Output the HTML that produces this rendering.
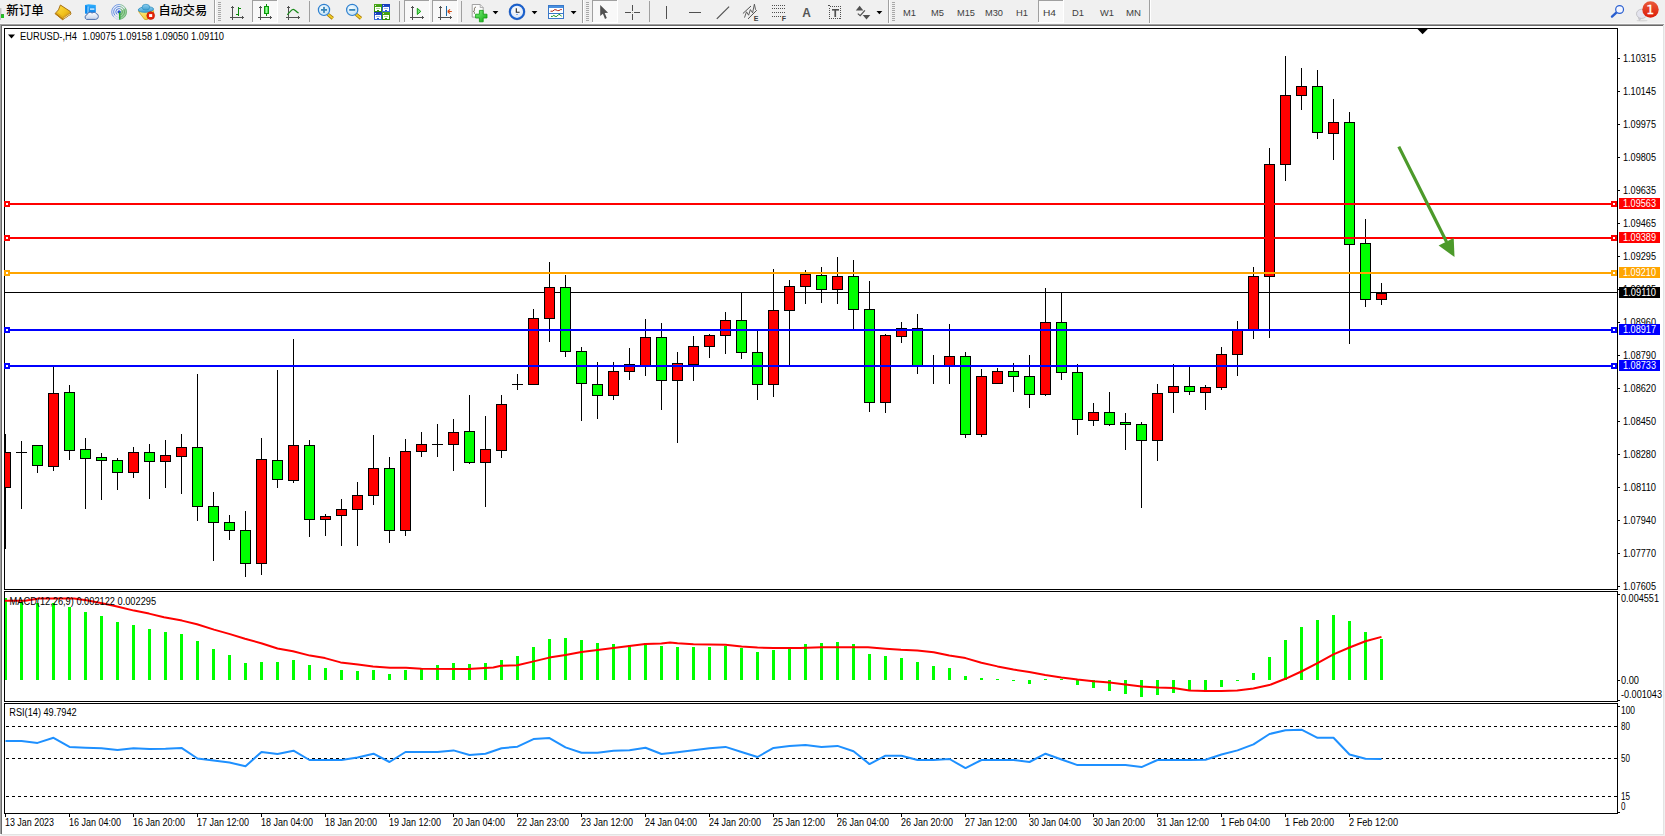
<!DOCTYPE html><html><head><meta charset="utf-8"><title>EURUSD-,H4</title>
<style>html,body{margin:0;padding:0;background:#f0f0f0;overflow:hidden}svg{display:block}text{font-family:"Liberation Sans","Noto Sans CJK SC",sans-serif;font-size:10px;fill:#000}.c{shape-rendering:crispEdges}</style></head><body>
<svg width="1665" height="836" viewBox="0 0 1665 836">
<defs><clipPath id="cm"><rect x="5" y="29" width="1612" height="560"/></clipPath><clipPath id="c2"><rect x="5" y="592" width="1612" height="109"/></clipPath><clipPath id="c3"><rect x="5" y="704" width="1612" height="109"/></clipPath></defs>
<rect width="1665" height="836" fill="#f0f0f0"/>
<g class="c">
<rect x="0" y="24" width="1664" height="811" fill="#fff"/>
<rect x="0" y="24" width="1664" height="1" fill="#a0a0a0"/>
<rect x="0" y="24" width="1" height="810" fill="#a0a0a0"/>
<rect x="1" y="25" width="1662" height="1" fill="#696969"/>
<rect x="1" y="25" width="1" height="809" fill="#696969"/>
<rect x="1663" y="25" width="1" height="810" fill="#e3e3e3"/>
<rect x="1" y="834" width="1663" height="1" fill="#e3e3e3"/>
<rect x="0" y="23" width="1665" height="1" fill="#f8f8f8"/>
</g>
<g class="c" fill="#000">
<rect x="4" y="28" width="1614" height="1"/>
<rect x="4" y="589" width="1614" height="1"/>
<rect x="4" y="28" width="1" height="562"/>
<rect x="1617" y="28" width="1" height="562"/>
<rect x="4" y="591" width="1614" height="1"/>
<rect x="4" y="701" width="1614" height="1"/>
<rect x="4" y="591" width="1" height="111"/>
<rect x="1617" y="591" width="1" height="111"/>
<rect x="4" y="703" width="1614" height="1"/>
<rect x="4" y="813" width="1614" height="1"/>
<rect x="4" y="703" width="1" height="111"/>
<rect x="1617" y="703" width="1" height="111"/>
</g>
<g class="c" clip-path="url(#cm)">
<rect x="5" y="292" width="1612" height="1" fill="#000"/>
<rect x="5" y="434" width="1" height="115" fill="#000"/>
<rect x="0" y="452" width="11" height="36" fill="#000"/>
<rect x="1" y="453" width="9" height="34" fill="#ff0000"/>
<rect x="21" y="441" width="1" height="68" fill="#000"/>
<rect x="16" y="452" width="11" height="1" fill="#000"/>
<rect x="37" y="445" width="1" height="28" fill="#000"/>
<rect x="32" y="445" width="11" height="21" fill="#000"/>
<rect x="33" y="446" width="9" height="19" fill="#00ff00"/>
<rect x="53" y="366" width="1" height="105" fill="#000"/>
<rect x="48" y="393" width="11" height="74" fill="#000"/>
<rect x="49" y="394" width="9" height="72" fill="#ff0000"/>
<rect x="69" y="385" width="1" height="75" fill="#000"/>
<rect x="64" y="392" width="11" height="59" fill="#000"/>
<rect x="65" y="393" width="9" height="57" fill="#00ff00"/>
<rect x="85" y="438" width="1" height="71" fill="#000"/>
<rect x="80" y="449" width="11" height="10" fill="#000"/>
<rect x="81" y="450" width="9" height="8" fill="#00ff00"/>
<rect x="101" y="453" width="1" height="47" fill="#000"/>
<rect x="96" y="457" width="11" height="4" fill="#000"/>
<rect x="97" y="458" width="9" height="2" fill="#00ff00"/>
<rect x="117" y="458" width="1" height="32" fill="#000"/>
<rect x="112" y="460" width="11" height="13" fill="#000"/>
<rect x="113" y="461" width="9" height="11" fill="#00ff00"/>
<rect x="133" y="447" width="1" height="31" fill="#000"/>
<rect x="128" y="452" width="11" height="21" fill="#000"/>
<rect x="129" y="453" width="9" height="19" fill="#ff0000"/>
<rect x="149" y="444" width="1" height="55" fill="#000"/>
<rect x="144" y="452" width="11" height="10" fill="#000"/>
<rect x="145" y="453" width="9" height="8" fill="#00ff00"/>
<rect x="165" y="440" width="1" height="48" fill="#000"/>
<rect x="160" y="455" width="11" height="7" fill="#000"/>
<rect x="161" y="456" width="9" height="5" fill="#ff0000"/>
<rect x="181" y="434" width="1" height="60" fill="#000"/>
<rect x="176" y="447" width="11" height="10" fill="#000"/>
<rect x="177" y="448" width="9" height="8" fill="#ff0000"/>
<rect x="197" y="374" width="1" height="147" fill="#000"/>
<rect x="192" y="447" width="11" height="60" fill="#000"/>
<rect x="193" y="448" width="9" height="58" fill="#00ff00"/>
<rect x="213" y="492" width="1" height="69" fill="#000"/>
<rect x="208" y="506" width="11" height="17" fill="#000"/>
<rect x="209" y="507" width="9" height="15" fill="#00ff00"/>
<rect x="229" y="515" width="1" height="25" fill="#000"/>
<rect x="224" y="522" width="11" height="9" fill="#000"/>
<rect x="225" y="523" width="9" height="7" fill="#00ff00"/>
<rect x="245" y="511" width="1" height="66" fill="#000"/>
<rect x="240" y="530" width="11" height="34" fill="#000"/>
<rect x="241" y="531" width="9" height="32" fill="#00ff00"/>
<rect x="261" y="438" width="1" height="137" fill="#000"/>
<rect x="256" y="459" width="11" height="105" fill="#000"/>
<rect x="257" y="460" width="9" height="103" fill="#ff0000"/>
<rect x="277" y="370" width="1" height="118" fill="#000"/>
<rect x="272" y="460" width="11" height="20" fill="#000"/>
<rect x="273" y="461" width="9" height="18" fill="#00ff00"/>
<rect x="293" y="339" width="1" height="144" fill="#000"/>
<rect x="288" y="445" width="11" height="36" fill="#000"/>
<rect x="289" y="446" width="9" height="34" fill="#ff0000"/>
<rect x="309" y="440" width="1" height="97" fill="#000"/>
<rect x="304" y="445" width="11" height="75" fill="#000"/>
<rect x="305" y="446" width="9" height="73" fill="#00ff00"/>
<rect x="325" y="514" width="1" height="22" fill="#000"/>
<rect x="320" y="516" width="11" height="4" fill="#000"/>
<rect x="321" y="517" width="9" height="2" fill="#ff0000"/>
<rect x="341" y="499" width="1" height="47" fill="#000"/>
<rect x="336" y="509" width="11" height="7" fill="#000"/>
<rect x="337" y="510" width="9" height="5" fill="#ff0000"/>
<rect x="357" y="482" width="1" height="64" fill="#000"/>
<rect x="352" y="495" width="11" height="15" fill="#000"/>
<rect x="353" y="496" width="9" height="13" fill="#ff0000"/>
<rect x="373" y="435" width="1" height="70" fill="#000"/>
<rect x="368" y="468" width="11" height="28" fill="#000"/>
<rect x="369" y="469" width="9" height="26" fill="#ff0000"/>
<rect x="389" y="457" width="1" height="86" fill="#000"/>
<rect x="384" y="468" width="11" height="63" fill="#000"/>
<rect x="385" y="469" width="9" height="61" fill="#00ff00"/>
<rect x="405" y="439" width="1" height="97" fill="#000"/>
<rect x="400" y="451" width="11" height="80" fill="#000"/>
<rect x="401" y="452" width="9" height="78" fill="#ff0000"/>
<rect x="421" y="432" width="1" height="25" fill="#000"/>
<rect x="416" y="444" width="11" height="8" fill="#000"/>
<rect x="417" y="445" width="9" height="6" fill="#ff0000"/>
<rect x="437" y="424" width="1" height="33" fill="#000"/>
<rect x="432" y="444" width="11" height="1" fill="#000"/>
<rect x="453" y="419" width="1" height="52" fill="#000"/>
<rect x="448" y="432" width="11" height="13" fill="#000"/>
<rect x="449" y="433" width="9" height="11" fill="#ff0000"/>
<rect x="469" y="395" width="1" height="69" fill="#000"/>
<rect x="464" y="431" width="11" height="32" fill="#000"/>
<rect x="465" y="432" width="9" height="30" fill="#00ff00"/>
<rect x="485" y="416" width="1" height="91" fill="#000"/>
<rect x="480" y="449" width="11" height="14" fill="#000"/>
<rect x="481" y="450" width="9" height="12" fill="#ff0000"/>
<rect x="501" y="395" width="1" height="63" fill="#000"/>
<rect x="496" y="404" width="11" height="47" fill="#000"/>
<rect x="497" y="405" width="9" height="45" fill="#ff0000"/>
<rect x="517" y="374" width="1" height="16" fill="#000"/>
<rect x="512" y="384" width="11" height="1" fill="#000"/>
<rect x="533" y="309" width="1" height="76" fill="#000"/>
<rect x="528" y="318" width="11" height="67" fill="#000"/>
<rect x="529" y="319" width="9" height="65" fill="#ff0000"/>
<rect x="549" y="262" width="1" height="80" fill="#000"/>
<rect x="544" y="287" width="11" height="32" fill="#000"/>
<rect x="545" y="288" width="9" height="30" fill="#ff0000"/>
<rect x="565" y="275" width="1" height="82" fill="#000"/>
<rect x="560" y="287" width="11" height="65" fill="#000"/>
<rect x="561" y="288" width="9" height="63" fill="#00ff00"/>
<rect x="581" y="347" width="1" height="74" fill="#000"/>
<rect x="576" y="351" width="11" height="33" fill="#000"/>
<rect x="577" y="352" width="9" height="31" fill="#00ff00"/>
<rect x="597" y="362" width="1" height="57" fill="#000"/>
<rect x="592" y="384" width="11" height="12" fill="#000"/>
<rect x="593" y="385" width="9" height="10" fill="#00ff00"/>
<rect x="613" y="362" width="1" height="38" fill="#000"/>
<rect x="608" y="371" width="11" height="25" fill="#000"/>
<rect x="609" y="372" width="9" height="23" fill="#ff0000"/>
<rect x="629" y="348" width="1" height="32" fill="#000"/>
<rect x="624" y="364" width="11" height="8" fill="#000"/>
<rect x="625" y="365" width="9" height="6" fill="#ff0000"/>
<rect x="645" y="319" width="1" height="57" fill="#000"/>
<rect x="640" y="337" width="11" height="29" fill="#000"/>
<rect x="641" y="338" width="9" height="27" fill="#ff0000"/>
<rect x="661" y="323" width="1" height="87" fill="#000"/>
<rect x="656" y="337" width="11" height="44" fill="#000"/>
<rect x="657" y="338" width="9" height="42" fill="#00ff00"/>
<rect x="677" y="352" width="1" height="91" fill="#000"/>
<rect x="672" y="363" width="11" height="18" fill="#000"/>
<rect x="673" y="364" width="9" height="16" fill="#ff0000"/>
<rect x="693" y="336" width="1" height="45" fill="#000"/>
<rect x="688" y="346" width="11" height="19" fill="#000"/>
<rect x="689" y="347" width="9" height="17" fill="#ff0000"/>
<rect x="709" y="334" width="1" height="24" fill="#000"/>
<rect x="704" y="335" width="11" height="12" fill="#000"/>
<rect x="705" y="336" width="9" height="10" fill="#ff0000"/>
<rect x="725" y="312" width="1" height="42" fill="#000"/>
<rect x="720" y="320" width="11" height="16" fill="#000"/>
<rect x="721" y="321" width="9" height="14" fill="#ff0000"/>
<rect x="741" y="292" width="1" height="67" fill="#000"/>
<rect x="736" y="320" width="11" height="33" fill="#000"/>
<rect x="737" y="321" width="9" height="31" fill="#00ff00"/>
<rect x="757" y="330" width="1" height="70" fill="#000"/>
<rect x="752" y="352" width="11" height="33" fill="#000"/>
<rect x="753" y="353" width="9" height="31" fill="#00ff00"/>
<rect x="773" y="269" width="1" height="128" fill="#000"/>
<rect x="768" y="310" width="11" height="75" fill="#000"/>
<rect x="769" y="311" width="9" height="73" fill="#ff0000"/>
<rect x="789" y="280" width="1" height="87" fill="#000"/>
<rect x="784" y="286" width="11" height="25" fill="#000"/>
<rect x="785" y="287" width="9" height="23" fill="#ff0000"/>
<rect x="805" y="270" width="1" height="34" fill="#000"/>
<rect x="800" y="274" width="11" height="13" fill="#000"/>
<rect x="801" y="275" width="9" height="11" fill="#ff0000"/>
<rect x="821" y="267" width="1" height="36" fill="#000"/>
<rect x="816" y="275" width="11" height="15" fill="#000"/>
<rect x="817" y="276" width="9" height="13" fill="#00ff00"/>
<rect x="837" y="257" width="1" height="47" fill="#000"/>
<rect x="832" y="276" width="11" height="14" fill="#000"/>
<rect x="833" y="277" width="9" height="12" fill="#ff0000"/>
<rect x="853" y="260" width="1" height="70" fill="#000"/>
<rect x="848" y="276" width="11" height="34" fill="#000"/>
<rect x="849" y="277" width="9" height="32" fill="#00ff00"/>
<rect x="869" y="281" width="1" height="131" fill="#000"/>
<rect x="864" y="309" width="11" height="94" fill="#000"/>
<rect x="865" y="310" width="9" height="92" fill="#00ff00"/>
<rect x="885" y="334" width="1" height="79" fill="#000"/>
<rect x="880" y="335" width="11" height="68" fill="#000"/>
<rect x="881" y="336" width="9" height="66" fill="#ff0000"/>
<rect x="901" y="322" width="1" height="21" fill="#000"/>
<rect x="896" y="328" width="11" height="9" fill="#000"/>
<rect x="897" y="329" width="9" height="7" fill="#ff0000"/>
<rect x="917" y="314" width="1" height="60" fill="#000"/>
<rect x="912" y="328" width="11" height="38" fill="#000"/>
<rect x="913" y="329" width="9" height="36" fill="#00ff00"/>
<rect x="933" y="355" width="1" height="29" fill="#000"/>
<rect x="928" y="366" width="11" height="1" fill="#000"/>
<rect x="949" y="324" width="1" height="60" fill="#000"/>
<rect x="944" y="356" width="11" height="10" fill="#000"/>
<rect x="945" y="357" width="9" height="8" fill="#ff0000"/>
<rect x="965" y="352" width="1" height="86" fill="#000"/>
<rect x="960" y="356" width="11" height="79" fill="#000"/>
<rect x="961" y="357" width="9" height="77" fill="#00ff00"/>
<rect x="981" y="369" width="1" height="68" fill="#000"/>
<rect x="976" y="376" width="11" height="59" fill="#000"/>
<rect x="977" y="377" width="9" height="57" fill="#ff0000"/>
<rect x="997" y="368" width="1" height="16" fill="#000"/>
<rect x="992" y="371" width="11" height="13" fill="#000"/>
<rect x="993" y="372" width="9" height="11" fill="#ff0000"/>
<rect x="1013" y="363" width="1" height="29" fill="#000"/>
<rect x="1008" y="371" width="11" height="6" fill="#000"/>
<rect x="1009" y="372" width="9" height="4" fill="#00ff00"/>
<rect x="1029" y="355" width="1" height="53" fill="#000"/>
<rect x="1024" y="376" width="11" height="19" fill="#000"/>
<rect x="1025" y="377" width="9" height="17" fill="#00ff00"/>
<rect x="1045" y="288" width="1" height="108" fill="#000"/>
<rect x="1040" y="322" width="11" height="73" fill="#000"/>
<rect x="1041" y="323" width="9" height="71" fill="#ff0000"/>
<rect x="1061" y="292" width="1" height="88" fill="#000"/>
<rect x="1056" y="322" width="11" height="51" fill="#000"/>
<rect x="1057" y="323" width="9" height="49" fill="#00ff00"/>
<rect x="1077" y="364" width="1" height="71" fill="#000"/>
<rect x="1072" y="372" width="11" height="48" fill="#000"/>
<rect x="1073" y="373" width="9" height="46" fill="#00ff00"/>
<rect x="1093" y="403" width="1" height="23" fill="#000"/>
<rect x="1088" y="412" width="11" height="9" fill="#000"/>
<rect x="1089" y="413" width="9" height="7" fill="#ff0000"/>
<rect x="1109" y="392" width="1" height="34" fill="#000"/>
<rect x="1104" y="412" width="11" height="13" fill="#000"/>
<rect x="1105" y="413" width="9" height="11" fill="#00ff00"/>
<rect x="1125" y="413" width="1" height="37" fill="#000"/>
<rect x="1120" y="422" width="11" height="3" fill="#000"/>
<rect x="1121" y="423" width="9" height="1" fill="#00ff00"/>
<rect x="1141" y="422" width="1" height="86" fill="#000"/>
<rect x="1136" y="424" width="11" height="17" fill="#000"/>
<rect x="1137" y="425" width="9" height="15" fill="#00ff00"/>
<rect x="1157" y="384" width="1" height="77" fill="#000"/>
<rect x="1152" y="393" width="11" height="48" fill="#000"/>
<rect x="1153" y="394" width="9" height="46" fill="#ff0000"/>
<rect x="1173" y="364" width="1" height="49" fill="#000"/>
<rect x="1168" y="386" width="11" height="7" fill="#000"/>
<rect x="1169" y="387" width="9" height="5" fill="#ff0000"/>
<rect x="1189" y="366" width="1" height="29" fill="#000"/>
<rect x="1184" y="386" width="11" height="6" fill="#000"/>
<rect x="1185" y="387" width="9" height="4" fill="#00ff00"/>
<rect x="1205" y="385" width="1" height="25" fill="#000"/>
<rect x="1200" y="387" width="11" height="6" fill="#000"/>
<rect x="1201" y="388" width="9" height="4" fill="#ff0000"/>
<rect x="1221" y="347" width="1" height="43" fill="#000"/>
<rect x="1216" y="354" width="11" height="34" fill="#000"/>
<rect x="1217" y="355" width="9" height="32" fill="#ff0000"/>
<rect x="1237" y="321" width="1" height="55" fill="#000"/>
<rect x="1232" y="330" width="11" height="25" fill="#000"/>
<rect x="1233" y="331" width="9" height="23" fill="#ff0000"/>
<rect x="1253" y="267" width="1" height="72" fill="#000"/>
<rect x="1248" y="276" width="11" height="55" fill="#000"/>
<rect x="1249" y="277" width="9" height="53" fill="#ff0000"/>
<rect x="1269" y="148" width="1" height="190" fill="#000"/>
<rect x="1264" y="164" width="11" height="113" fill="#000"/>
<rect x="1265" y="165" width="9" height="111" fill="#ff0000"/>
<rect x="1285" y="56" width="1" height="125" fill="#000"/>
<rect x="1280" y="95" width="11" height="70" fill="#000"/>
<rect x="1281" y="96" width="9" height="68" fill="#ff0000"/>
<rect x="1301" y="68" width="1" height="42" fill="#000"/>
<rect x="1296" y="86" width="11" height="10" fill="#000"/>
<rect x="1297" y="87" width="9" height="8" fill="#ff0000"/>
<rect x="1317" y="70" width="1" height="69" fill="#000"/>
<rect x="1312" y="86" width="11" height="47" fill="#000"/>
<rect x="1313" y="87" width="9" height="45" fill="#00ff00"/>
<rect x="1333" y="99" width="1" height="61" fill="#000"/>
<rect x="1328" y="122" width="11" height="12" fill="#000"/>
<rect x="1329" y="123" width="9" height="10" fill="#ff0000"/>
<rect x="1349" y="112" width="1" height="232" fill="#000"/>
<rect x="1344" y="122" width="11" height="123" fill="#000"/>
<rect x="1345" y="123" width="9" height="121" fill="#00ff00"/>
<rect x="1365" y="219" width="1" height="88" fill="#000"/>
<rect x="1360" y="243" width="11" height="57" fill="#000"/>
<rect x="1361" y="244" width="9" height="55" fill="#00ff00"/>
<rect x="1381" y="283" width="1" height="22" fill="#000"/>
<rect x="1376" y="293" width="11" height="7" fill="#000"/>
<rect x="1377" y="294" width="9" height="5" fill="#ff0000"/>
</g>
<g class="c">
<rect x="5" y="203" width="1612" height="2" fill="#ff0000"/>
<rect x="4" y="201" width="6" height="6" fill="#ff0000"/>
<rect x="6" y="203" width="2" height="2" fill="#fff"/>
<rect x="1611" y="201" width="6" height="6" fill="#ff0000"/>
<rect x="1613" y="203" width="2" height="2" fill="#fff"/>
<rect x="5" y="237" width="1612" height="2" fill="#ff0000"/>
<rect x="4" y="235" width="6" height="6" fill="#ff0000"/>
<rect x="6" y="237" width="2" height="2" fill="#fff"/>
<rect x="1611" y="235" width="6" height="6" fill="#ff0000"/>
<rect x="1613" y="237" width="2" height="2" fill="#fff"/>
<rect x="5" y="272" width="1612" height="2" fill="#ffa500"/>
<rect x="4" y="270" width="6" height="6" fill="#ffa500"/>
<rect x="6" y="272" width="2" height="2" fill="#fff"/>
<rect x="1611" y="270" width="6" height="6" fill="#ffa500"/>
<rect x="1613" y="272" width="2" height="2" fill="#fff"/>
<rect x="5" y="329" width="1612" height="2" fill="#0000ff"/>
<rect x="4" y="327" width="6" height="6" fill="#0000ff"/>
<rect x="6" y="329" width="2" height="2" fill="#fff"/>
<rect x="1611" y="327" width="6" height="6" fill="#0000ff"/>
<rect x="1613" y="329" width="2" height="2" fill="#fff"/>
<rect x="5" y="365" width="1612" height="2" fill="#0000ff"/>
<rect x="4" y="363" width="6" height="6" fill="#0000ff"/>
<rect x="6" y="365" width="2" height="2" fill="#fff"/>
<rect x="1611" y="363" width="6" height="6" fill="#0000ff"/>
<rect x="1613" y="365" width="2" height="2" fill="#fff"/>
</g>
<line x1="1398.8" y1="146.6" x2="1446.6" y2="242" stroke="#4c9a2a" stroke-width="3.2"/>
<polygon points="1438.6,245.6 1453.7,238 1454.5,257" fill="#4c9a2a"/>
<polygon points="1417.5,29 1427.8,29 1422.6,34.3" fill="#000"/>
<g class="c" fill="#000">
<rect x="1618" y="58" width="2" height="1"/>
<rect x="1618" y="91" width="2" height="1"/>
<rect x="1618" y="124" width="2" height="1"/>
<rect x="1618" y="157" width="2" height="1"/>
<rect x="1618" y="190" width="2" height="1"/>
<rect x="1618" y="223" width="2" height="1"/>
<rect x="1618" y="256" width="2" height="1"/>
<rect x="1618" y="289" width="2" height="1"/>
<rect x="1618" y="322" width="2" height="1"/>
<rect x="1618" y="355" width="2" height="1"/>
<rect x="1618" y="388" width="2" height="1"/>
<rect x="1618" y="421" width="2" height="1"/>
<rect x="1618" y="454" width="2" height="1"/>
<rect x="1618" y="487" width="2" height="1"/>
<rect x="1618" y="520" width="2" height="1"/>
<rect x="1618" y="553" width="2" height="1"/>
<rect x="1618" y="586" width="2" height="1"/>
</g>
<text x="1623" y="62" textLength="33" lengthAdjust="spacingAndGlyphs">1.10315</text>
<text x="1623" y="95" textLength="33" lengthAdjust="spacingAndGlyphs">1.10145</text>
<text x="1623" y="128" textLength="33" lengthAdjust="spacingAndGlyphs">1.09975</text>
<text x="1623" y="161" textLength="33" lengthAdjust="spacingAndGlyphs">1.09805</text>
<text x="1623" y="194" textLength="33" lengthAdjust="spacingAndGlyphs">1.09635</text>
<text x="1623" y="227" textLength="33" lengthAdjust="spacingAndGlyphs">1.09465</text>
<text x="1623" y="260" textLength="33" lengthAdjust="spacingAndGlyphs">1.09295</text>
<text x="1623" y="293" textLength="33" lengthAdjust="spacingAndGlyphs">1.09125</text>
<text x="1623" y="326" textLength="33" lengthAdjust="spacingAndGlyphs">1.08960</text>
<text x="1623" y="359" textLength="33" lengthAdjust="spacingAndGlyphs">1.08790</text>
<text x="1623" y="392" textLength="33" lengthAdjust="spacingAndGlyphs">1.08620</text>
<text x="1623" y="425" textLength="33" lengthAdjust="spacingAndGlyphs">1.08450</text>
<text x="1623" y="458" textLength="33" lengthAdjust="spacingAndGlyphs">1.08280</text>
<text x="1623" y="491" textLength="33" lengthAdjust="spacingAndGlyphs">1.08110</text>
<text x="1623" y="524" textLength="33" lengthAdjust="spacingAndGlyphs">1.07940</text>
<text x="1623" y="557" textLength="33" lengthAdjust="spacingAndGlyphs">1.07770</text>
<text x="1623" y="590" textLength="33" lengthAdjust="spacingAndGlyphs">1.07605</text>
<rect class="c" x="1619" y="198" width="41" height="11" fill="#ff0000"/>
<text x="1623" y="207" textLength="33" lengthAdjust="spacingAndGlyphs" style="fill:#fff">1.09563</text>
<rect class="c" x="1619" y="232" width="41" height="11" fill="#ff0000"/>
<text x="1623" y="241" textLength="33" lengthAdjust="spacingAndGlyphs" style="fill:#fff">1.09389</text>
<rect class="c" x="1619" y="267" width="41" height="11" fill="#ffa500"/>
<text x="1623" y="276" textLength="33" lengthAdjust="spacingAndGlyphs" style="fill:#fff">1.09210</text>
<rect class="c" x="1619" y="324" width="41" height="11" fill="#0000ff"/>
<text x="1623" y="333" textLength="33" lengthAdjust="spacingAndGlyphs" style="fill:#fff">1.08917</text>
<rect class="c" x="1619" y="360" width="41" height="11" fill="#0000ff"/>
<text x="1623" y="369" textLength="33" lengthAdjust="spacingAndGlyphs" style="fill:#fff">1.08733</text>
<rect class="c" x="1619" y="287" width="41" height="11" fill="#000000"/>
<text x="1623" y="296" textLength="33" lengthAdjust="spacingAndGlyphs" style="fill:#fff">1.09110</text>
<polygon points="8,34.5 15,34.5 11.5,38.5" fill="#000"/>
<text x="20" y="40" textLength="204" lengthAdjust="spacingAndGlyphs" style="white-space:pre">EURUSD-,H4  1.09075 1.09158 1.09050 1.09110</text>
<g class="c" clip-path="url(#c2)">
<rect x="4" y="598" width="3" height="82" fill="#00ff00"/>
<rect x="20" y="602" width="3" height="78" fill="#00ff00"/>
<rect x="36" y="603" width="3" height="77" fill="#00ff00"/>
<rect x="52" y="603" width="3" height="77" fill="#00ff00"/>
<rect x="68" y="607" width="3" height="73" fill="#00ff00"/>
<rect x="84" y="612" width="3" height="68" fill="#00ff00"/>
<rect x="100" y="616" width="3" height="64" fill="#00ff00"/>
<rect x="116" y="622" width="3" height="58" fill="#00ff00"/>
<rect x="132" y="625" width="3" height="55" fill="#00ff00"/>
<rect x="148" y="629" width="3" height="51" fill="#00ff00"/>
<rect x="164" y="632" width="3" height="48" fill="#00ff00"/>
<rect x="180" y="634" width="3" height="46" fill="#00ff00"/>
<rect x="196" y="641" width="3" height="39" fill="#00ff00"/>
<rect x="212" y="649" width="3" height="31" fill="#00ff00"/>
<rect x="228" y="655" width="3" height="25" fill="#00ff00"/>
<rect x="244" y="663" width="3" height="17" fill="#00ff00"/>
<rect x="260" y="662" width="3" height="18" fill="#00ff00"/>
<rect x="276" y="662" width="3" height="18" fill="#00ff00"/>
<rect x="292" y="660" width="3" height="20" fill="#00ff00"/>
<rect x="308" y="665" width="3" height="15" fill="#00ff00"/>
<rect x="324" y="668" width="3" height="12" fill="#00ff00"/>
<rect x="340" y="670" width="3" height="10" fill="#00ff00"/>
<rect x="356" y="671" width="3" height="9" fill="#00ff00"/>
<rect x="372" y="670" width="3" height="10" fill="#00ff00"/>
<rect x="388" y="674" width="3" height="6" fill="#00ff00"/>
<rect x="404" y="670" width="3" height="10" fill="#00ff00"/>
<rect x="420" y="669" width="3" height="11" fill="#00ff00"/>
<rect x="436" y="665" width="3" height="15" fill="#00ff00"/>
<rect x="452" y="663" width="3" height="17" fill="#00ff00"/>
<rect x="468" y="664" width="3" height="16" fill="#00ff00"/>
<rect x="484" y="663" width="3" height="17" fill="#00ff00"/>
<rect x="500" y="660" width="3" height="20" fill="#00ff00"/>
<rect x="516" y="656" width="3" height="24" fill="#00ff00"/>
<rect x="532" y="647" width="3" height="33" fill="#00ff00"/>
<rect x="548" y="639" width="3" height="41" fill="#00ff00"/>
<rect x="564" y="638" width="3" height="42" fill="#00ff00"/>
<rect x="580" y="640" width="3" height="40" fill="#00ff00"/>
<rect x="596" y="643" width="3" height="37" fill="#00ff00"/>
<rect x="612" y="644" width="3" height="36" fill="#00ff00"/>
<rect x="628" y="645" width="3" height="35" fill="#00ff00"/>
<rect x="644" y="643" width="3" height="37" fill="#00ff00"/>
<rect x="660" y="646" width="3" height="34" fill="#00ff00"/>
<rect x="676" y="647" width="3" height="33" fill="#00ff00"/>
<rect x="692" y="647" width="3" height="33" fill="#00ff00"/>
<rect x="708" y="647" width="3" height="33" fill="#00ff00"/>
<rect x="724" y="646" width="3" height="34" fill="#00ff00"/>
<rect x="740" y="648" width="3" height="32" fill="#00ff00"/>
<rect x="756" y="652" width="3" height="28" fill="#00ff00"/>
<rect x="772" y="650" width="3" height="30" fill="#00ff00"/>
<rect x="788" y="648" width="3" height="32" fill="#00ff00"/>
<rect x="804" y="644" width="3" height="36" fill="#00ff00"/>
<rect x="820" y="643" width="3" height="37" fill="#00ff00"/>
<rect x="836" y="642" width="3" height="38" fill="#00ff00"/>
<rect x="852" y="644" width="3" height="36" fill="#00ff00"/>
<rect x="868" y="654" width="3" height="26" fill="#00ff00"/>
<rect x="884" y="656" width="3" height="24" fill="#00ff00"/>
<rect x="900" y="658" width="3" height="22" fill="#00ff00"/>
<rect x="916" y="662" width="3" height="18" fill="#00ff00"/>
<rect x="932" y="666" width="3" height="14" fill="#00ff00"/>
<rect x="948" y="668" width="3" height="12" fill="#00ff00"/>
<rect x="964" y="676" width="3" height="4" fill="#00ff00"/>
<rect x="980" y="678" width="3" height="2" fill="#00ff00"/>
<rect x="996" y="679" width="3" height="1" fill="#00ff00"/>
<rect x="1012" y="680" width="3" height="1" fill="#00ff00"/>
<rect x="1028" y="680" width="3" height="4" fill="#00ff00"/>
<rect x="1044" y="679" width="3" height="1" fill="#00ff00"/>
<rect x="1060" y="679" width="3" height="1" fill="#00ff00"/>
<rect x="1076" y="680" width="3" height="5" fill="#00ff00"/>
<rect x="1092" y="680" width="3" height="8" fill="#00ff00"/>
<rect x="1108" y="680" width="3" height="11" fill="#00ff00"/>
<rect x="1124" y="680" width="3" height="14" fill="#00ff00"/>
<rect x="1140" y="680" width="3" height="17" fill="#00ff00"/>
<rect x="1156" y="680" width="3" height="15" fill="#00ff00"/>
<rect x="1172" y="680" width="3" height="13" fill="#00ff00"/>
<rect x="1188" y="680" width="3" height="10" fill="#00ff00"/>
<rect x="1204" y="680" width="3" height="10" fill="#00ff00"/>
<rect x="1220" y="680" width="3" height="7" fill="#00ff00"/>
<rect x="1236" y="680" width="3" height="1" fill="#00ff00"/>
<rect x="1252" y="673" width="3" height="7" fill="#00ff00"/>
<rect x="1268" y="657" width="3" height="23" fill="#00ff00"/>
<rect x="1284" y="640" width="3" height="40" fill="#00ff00"/>
<rect x="1300" y="627" width="3" height="53" fill="#00ff00"/>
<rect x="1316" y="620" width="3" height="60" fill="#00ff00"/>
<rect x="1332" y="615" width="3" height="65" fill="#00ff00"/>
<rect x="1348" y="621" width="3" height="59" fill="#00ff00"/>
<rect x="1364" y="632" width="3" height="48" fill="#00ff00"/>
<rect x="1380" y="639" width="3" height="41" fill="#00ff00"/>
</g>
<polyline clip-path="url(#c2)" fill="none" stroke="#ff0000" stroke-width="2" stroke-linejoin="round" points="5.0,600.8 25.0,600.8 39.0,598.4 74.0,598.4 88.0,600.6 102.0,603.3 116.0,606.2 134.0,610.6 149.0,613.6 164.0,617.3 182.0,620.6 197.0,624.3 214.0,629.6 230.0,634.1 245.0,638.7 262.0,643.5 277.5,648.5 293.0,651.3 310.0,655.6 325.0,658.1 340.6,662.4 358.0,664.4 373.0,666.4 390.0,667.7 406.0,667.7 421.4,668.7 468.0,669.0 493.3,667.4 501.0,665.7 517.3,665.2 533.7,661.4 549.3,657.6 565.5,655.1 581.4,652.1 597.5,650.0 613.4,648.0 629.3,646.0 645.2,644.0 661.4,643.5 670.0,642.5 677.5,643.2 693.4,644.2 725.4,644.7 741.6,646.5 757.5,647.5 773.6,648.0 800.0,648.0 821.4,647.3 868.0,647.3 885.8,648.8 901.0,649.8 917.3,650.5 933.7,652.3 949.3,655.6 965.5,658.1 981.4,662.7 997.5,666.4 1013.4,669.5 1029.3,672.0 1045.2,675.0 1061.4,677.5 1077.5,679.6 1093.4,681.3 1109.5,682.4 1125.4,684.4 1141.6,686.4 1157.5,687.4 1173.6,687.9 1189.5,690.4 1205.6,690.9 1221.3,690.9 1237.2,690.4 1253.4,688.4 1269.3,685.1 1285.4,678.8 1301.3,671.5 1317.5,663.2 1333.4,654.3 1349.5,647.5 1365.4,641.2 1381.5,636.9"/>
<text x="9.6" y="604.5" textLength="146.5" lengthAdjust="spacingAndGlyphs">MACD(12,26,9) 0.002122 0.002295</text>
<g class="c" fill="#000"><rect x="1618" y="594" width="2" height="1"/><rect x="1618" y="680" width="2" height="1"/><rect x="1618" y="700" width="2" height="1"/></g>
<text x="1621" y="602" textLength="38" lengthAdjust="spacingAndGlyphs">0.004551</text>
<text x="1621" y="684" textLength="18" lengthAdjust="spacingAndGlyphs">0.00</text>
<text x="1621" y="698" textLength="41" lengthAdjust="spacingAndGlyphs">-0.001043</text>
<g class="c">
<line x1="6" y1="726.5" x2="1617" y2="726.5" stroke="#000" stroke-width="1" stroke-dasharray="3,3"/>
<line x1="6" y1="758.5" x2="1617" y2="758.5" stroke="#000" stroke-width="1" stroke-dasharray="3,3"/>
<line x1="6" y1="796.5" x2="1617" y2="796.5" stroke="#000" stroke-width="1" stroke-dasharray="3,3"/>
</g>
<polyline clip-path="url(#c3)" fill="none" stroke="#1e90ff" stroke-width="2" stroke-linejoin="round" points="5.5,741.1 21.5,741.1 37.5,742.9 53.5,737.8 69.5,746.9 85.5,747.7 101.5,748.2 117.5,749.9 133.5,748.2 149.5,748.9 165.5,748.7 181.5,747.9 197.5,758.5 213.5,760.5 229.5,762.5 245.5,766.3 261.5,752.0 277.5,754.0 293.5,750.7 309.5,760.0 325.5,760.0 341.5,760.0 357.5,757.5 373.5,753.7 389.5,762.0 405.5,752.0 421.5,752.0 437.5,752.0 453.5,750.4 469.5,755.0 485.5,753.7 501.5,748.2 517.5,746.7 533.5,739.1 549.5,738.1 565.5,747.4 581.5,752.7 597.5,752.7 613.5,750.7 629.5,750.2 645.5,747.7 661.5,754.0 677.5,752.2 693.5,750.2 709.5,748.2 725.5,746.9 741.5,752.0 757.5,757.0 773.5,747.9 789.5,746.1 805.5,744.9 821.5,746.9 837.5,745.9 853.5,751.2 869.5,764.1 885.5,755.7 901.5,755.7 917.5,760.0 933.5,760.0 949.5,759.0 965.5,768.1 981.5,760.0 997.5,760.0 1013.5,760.0 1029.5,762.0 1045.5,753.7 1061.5,759.5 1077.5,765.1 1093.5,765.1 1109.5,765.1 1125.5,765.1 1141.5,767.1 1157.5,760.0 1173.5,760.0 1189.5,760.0 1205.5,759.8 1221.5,754.5 1237.5,750.4 1253.5,744.4 1269.5,734.0 1285.5,730.3 1301.5,729.7 1317.5,737.8 1333.5,737.8 1349.5,754.5 1365.5,758.8 1381.5,759.0"/>
<text x="9.3" y="716.4" textLength="67.4" lengthAdjust="spacingAndGlyphs">RSI(14) 49.7942</text>
<g class="c" fill="#000"><rect x="1618" y="706" width="2" height="1"/><rect x="1618" y="812" width="2" height="1"/></g>
<text x="1621" y="714" textLength="14" lengthAdjust="spacingAndGlyphs">100</text>
<text x="1621" y="730" textLength="9" lengthAdjust="spacingAndGlyphs">80</text>
<text x="1621" y="762" textLength="9" lengthAdjust="spacingAndGlyphs">50</text>
<text x="1621" y="800" textLength="9" lengthAdjust="spacingAndGlyphs">15</text>
<text x="1621" y="810" textLength="4.5" lengthAdjust="spacingAndGlyphs">0</text>
<g class="c" fill="#000">
<rect x="5" y="813" width="1" height="4"/>
<rect x="69" y="813" width="1" height="4"/>
<rect x="133" y="813" width="1" height="4"/>
<rect x="197" y="813" width="1" height="4"/>
<rect x="261" y="813" width="1" height="4"/>
<rect x="325" y="813" width="1" height="4"/>
<rect x="389" y="813" width="1" height="4"/>
<rect x="453" y="813" width="1" height="4"/>
<rect x="517" y="813" width="1" height="4"/>
<rect x="581" y="813" width="1" height="4"/>
<rect x="645" y="813" width="1" height="4"/>
<rect x="709" y="813" width="1" height="4"/>
<rect x="773" y="813" width="1" height="4"/>
<rect x="837" y="813" width="1" height="4"/>
<rect x="901" y="813" width="1" height="4"/>
<rect x="965" y="813" width="1" height="4"/>
<rect x="1029" y="813" width="1" height="4"/>
<rect x="1093" y="813" width="1" height="4"/>
<rect x="1157" y="813" width="1" height="4"/>
<rect x="1221" y="813" width="1" height="4"/>
<rect x="1285" y="813" width="1" height="4"/>
<rect x="1349" y="813" width="1" height="4"/>
</g>
<text x="5" y="826" textLength="49" lengthAdjust="spacingAndGlyphs">13 Jan 2023</text>
<text x="69" y="826" textLength="52" lengthAdjust="spacingAndGlyphs">16 Jan 04:00</text>
<text x="133" y="826" textLength="52" lengthAdjust="spacingAndGlyphs">16 Jan 20:00</text>
<text x="197" y="826" textLength="52" lengthAdjust="spacingAndGlyphs">17 Jan 12:00</text>
<text x="261" y="826" textLength="52" lengthAdjust="spacingAndGlyphs">18 Jan 04:00</text>
<text x="325" y="826" textLength="52" lengthAdjust="spacingAndGlyphs">18 Jan 20:00</text>
<text x="389" y="826" textLength="52" lengthAdjust="spacingAndGlyphs">19 Jan 12:00</text>
<text x="453" y="826" textLength="52" lengthAdjust="spacingAndGlyphs">20 Jan 04:00</text>
<text x="517" y="826" textLength="52" lengthAdjust="spacingAndGlyphs">22 Jan 23:00</text>
<text x="581" y="826" textLength="52" lengthAdjust="spacingAndGlyphs">23 Jan 12:00</text>
<text x="645" y="826" textLength="52" lengthAdjust="spacingAndGlyphs">24 Jan 04:00</text>
<text x="709" y="826" textLength="52" lengthAdjust="spacingAndGlyphs">24 Jan 20:00</text>
<text x="773" y="826" textLength="52" lengthAdjust="spacingAndGlyphs">25 Jan 12:00</text>
<text x="837" y="826" textLength="52" lengthAdjust="spacingAndGlyphs">26 Jan 04:00</text>
<text x="901" y="826" textLength="52" lengthAdjust="spacingAndGlyphs">26 Jan 20:00</text>
<text x="965" y="826" textLength="52" lengthAdjust="spacingAndGlyphs">27 Jan 12:00</text>
<text x="1029" y="826" textLength="52" lengthAdjust="spacingAndGlyphs">30 Jan 04:00</text>
<text x="1093" y="826" textLength="52" lengthAdjust="spacingAndGlyphs">30 Jan 20:00</text>
<text x="1157" y="826" textLength="52" lengthAdjust="spacingAndGlyphs">31 Jan 12:00</text>
<text x="1221" y="826" textLength="49" lengthAdjust="spacingAndGlyphs">1 Feb 04:00</text>
<text x="1285" y="826" textLength="49" lengthAdjust="spacingAndGlyphs">1 Feb 20:00</text>
<text x="1349" y="826" textLength="49" lengthAdjust="spacingAndGlyphs">2 Feb 12:00</text>
<defs><linearGradient id="gGold" x1="0" y1="0" x2="1" y2="1"><stop offset="0" stop-color="#ffe14a"/><stop offset=".55" stop-color="#f2c21c"/><stop offset="1" stop-color="#c98a12"/></linearGradient><linearGradient id="gCloud" x1="0" y1="0" x2="0" y2="1"><stop offset="0" stop-color="#ffffff"/><stop offset="1" stop-color="#c4d2ea"/></linearGradient><linearGradient id="gBlue" x1="0" y1="0" x2="0" y2="1"><stop offset="0" stop-color="#2fb0ff"/><stop offset="1" stop-color="#0b7fe8"/></linearGradient><linearGradient id="gGreenC" x1="0" y1="0" x2="1" y2="0"><stop offset="0" stop-color="#22c322"/><stop offset=".5" stop-color="#9dff9d"/><stop offset="1" stop-color="#22c322"/></linearGradient><radialGradient id="gLens" cx=".4" cy=".35" r=".7"><stop offset="0" stop-color="#f4fbff"/><stop offset="1" stop-color="#bfe0f4"/></radialGradient><linearGradient id="gRed" x1="0" y1="0" x2="0" y2="1"><stop offset="0" stop-color="#ea5a3a"/><stop offset="1" stop-color="#dc1c08"/></linearGradient><linearGradient id="gHat" x1="0" y1="0" x2="0" y2="1"><stop offset="0" stop-color="#8fd0f2"/><stop offset="1" stop-color="#3f9fd0"/></linearGradient><linearGradient id="gFace" x1="0" y1="0" x2="1" y2="1"><stop offset="0" stop-color="#fff08a"/><stop offset="1" stop-color="#f0c020"/></linearGradient><radialGradient id="gSig" cx=".5" cy=".5" r=".5"><stop offset="0" stop-color="#ffffff"/><stop offset="1" stop-color="#dfeaf6"/></radialGradient><linearGradient id="gGrn" x1="0" y1="0" x2="0" y2="1"><stop offset="0" stop-color="#4aa818"/><stop offset="1" stop-color="#2e8c0a"/></linearGradient><linearGradient id="gBl2" x1="0" y1="0" x2="0" y2="1"><stop offset="0" stop-color="#1238b8"/><stop offset="1" stop-color="#3a70e0"/></linearGradient><linearGradient id="gPlus" x1="0" y1="0" x2="1" y2="1"><stop offset="0" stop-color="#7af07a"/><stop offset="1" stop-color="#10a810"/></linearGradient><radialGradient id="gClock" cx=".45" cy=".4" r=".6"><stop offset="0" stop-color="#ffffff"/><stop offset="1" stop-color="#d8e4f4"/></radialGradient></defs>
<g class="c">
<rect x="214" y="0" width="1" height="23" fill="#a0a0a0"/><rect x="215" y="0" width="1" height="23" fill="#fff"/>
<rect x="218" y="2" width="3" height="1" fill="#a8a8a8"/>
<rect x="218" y="4" width="3" height="1" fill="#a8a8a8"/>
<rect x="218" y="6" width="3" height="1" fill="#a8a8a8"/>
<rect x="218" y="8" width="3" height="1" fill="#a8a8a8"/>
<rect x="218" y="10" width="3" height="1" fill="#a8a8a8"/>
<rect x="218" y="12" width="3" height="1" fill="#a8a8a8"/>
<rect x="218" y="14" width="3" height="1" fill="#a8a8a8"/>
<rect x="218" y="16" width="3" height="1" fill="#a8a8a8"/>
<rect x="218" y="18" width="3" height="1" fill="#a8a8a8"/>
<rect x="218" y="20" width="3" height="1" fill="#a8a8a8"/>
<rect x="582" y="0" width="1" height="23" fill="#a0a0a0"/><rect x="583" y="0" width="1" height="23" fill="#fff"/>
<rect x="586" y="2" width="3" height="1" fill="#a8a8a8"/>
<rect x="586" y="4" width="3" height="1" fill="#a8a8a8"/>
<rect x="586" y="6" width="3" height="1" fill="#a8a8a8"/>
<rect x="586" y="8" width="3" height="1" fill="#a8a8a8"/>
<rect x="586" y="10" width="3" height="1" fill="#a8a8a8"/>
<rect x="586" y="12" width="3" height="1" fill="#a8a8a8"/>
<rect x="586" y="14" width="3" height="1" fill="#a8a8a8"/>
<rect x="586" y="16" width="3" height="1" fill="#a8a8a8"/>
<rect x="586" y="18" width="3" height="1" fill="#a8a8a8"/>
<rect x="586" y="20" width="3" height="1" fill="#a8a8a8"/>
<rect x="888" y="0" width="1" height="23" fill="#a0a0a0"/><rect x="889" y="0" width="1" height="23" fill="#fff"/>
<rect x="892" y="2" width="3" height="1" fill="#a8a8a8"/>
<rect x="892" y="4" width="3" height="1" fill="#a8a8a8"/>
<rect x="892" y="6" width="3" height="1" fill="#a8a8a8"/>
<rect x="892" y="8" width="3" height="1" fill="#a8a8a8"/>
<rect x="892" y="10" width="3" height="1" fill="#a8a8a8"/>
<rect x="892" y="12" width="3" height="1" fill="#a8a8a8"/>
<rect x="892" y="14" width="3" height="1" fill="#a8a8a8"/>
<rect x="892" y="16" width="3" height="1" fill="#a8a8a8"/>
<rect x="892" y="18" width="3" height="1" fill="#a8a8a8"/>
<rect x="892" y="20" width="3" height="1" fill="#a8a8a8"/>
<rect x="309" y="1" width="1" height="21" fill="#a0a0a0"/>
<rect x="399" y="1" width="1" height="21" fill="#a0a0a0"/>
<rect x="461" y="1" width="1" height="21" fill="#a0a0a0"/>
<rect x="649" y="1" width="1" height="21" fill="#a0a0a0"/>
<rect x="1149" y="0" width="1" height="23" fill="#a0a0a0"/><rect x="1150" y="0" width="1" height="23" fill="#fff"/>
<rect x="252" y="0" width="26" height="23" fill="#fff"/>
<rect x="253" y="1" width="24" height="21" fill="#f8f8f8"/>
<rect x="252" y="0" width="25" height="1" fill="#a0a0a0"/>
<rect x="252" y="0" width="1" height="22" fill="#a0a0a0"/>
<rect x="404" y="0" width="26" height="23" fill="#fff"/>
<rect x="405" y="1" width="24" height="21" fill="#f8f8f8"/>
<rect x="404" y="0" width="25" height="1" fill="#a0a0a0"/>
<rect x="404" y="0" width="1" height="22" fill="#a0a0a0"/>
<rect x="432" y="0" width="26" height="23" fill="#fff"/>
<rect x="433" y="1" width="24" height="21" fill="#f8f8f8"/>
<rect x="432" y="0" width="25" height="1" fill="#a0a0a0"/>
<rect x="432" y="0" width="1" height="22" fill="#a0a0a0"/>
<rect x="592" y="0" width="26" height="23" fill="#fff"/>
<rect x="593" y="1" width="24" height="21" fill="#f8f8f8"/>
<rect x="592" y="0" width="25" height="1" fill="#a0a0a0"/>
<rect x="592" y="0" width="1" height="22" fill="#a0a0a0"/>
<rect x="1038" y="0" width="26" height="23" fill="#fff"/>
<rect x="1039" y="1" width="24" height="21" fill="#f8f8f8"/>
<rect x="1038" y="0" width="25" height="1" fill="#a0a0a0"/>
<rect x="1038" y="0" width="1" height="22" fill="#a0a0a0"/>
</g>
<rect class="c" x="0" y="15" width="4" height="3" fill="#22c022"/><rect class="c" x="0" y="14" width="4" height="1" fill="#3aa83a"/>
<rect class="c" x="0" y="8" width="1" height="12" fill="#c4c4c4"/><rect class="c" x="1" y="8" width="1" height="6" fill="#dcdcdc"/>
<text x="6.2" y="15.2" style="font-size:12px;font-weight:500" textLength="37.6" lengthAdjust="spacingAndGlyphs">新订单</text>
<path d="M60.4,5 L70.2,11.4 L71,13.9 L62.6,19.7 L55.1,13.6 Q59.2,10.4 60.4,5 Z" fill="url(#gGold)" stroke="#a8700c" stroke-width="1" stroke-linejoin="round"/>
<path d="M55.6,13.4 L62.6,19 L70.6,13.4" fill="none" stroke="#b87a10" stroke-width="1.3"/>
<polyline points="56.6,12.4 63,17.2 70,12.2" fill="none" stroke="#d9a21a" stroke-width=".8"/>
<polyline points="63.6,18.4 70.4,13.7" fill="none" stroke="#f6ecc0" stroke-width=".8"/>
<polygon points="85.2,5 88.4,4.3 95.8,5 95.8,13.5 85.2,13.5" fill="url(#gBlue)"/>
<polygon points="85.2,5 88,6.4 88,13.5 85.2,13.5" fill="#0a8af0"/>
<line x1="88" y1="6.4" x2="88" y2="13.5" stroke="#d8f0ff" stroke-width=".8"/>
<rect x="90" y="8.4" width="4.4" height="1.4" fill="#d8efff"/>
<path d="M86.5,19.4 h9.2 a3,3 0 0 0 .4,-5.9 a2.6,2.6 0 0 0 -4,-0.4 a3,3 0 0 0 -5,1.6 a2.5,2.5 0 0 0 -.6,4.7z" fill="url(#gCloud)" stroke="#4f70ac" stroke-width="1"/>
<linearGradient id="gRing" gradientUnits="userSpaceOnUse" x1="111.5" y1="0" x2="127" y2="0"><stop offset="0" stop-color="#2f5fd8"/><stop offset=".5" stop-color="#3f6fd0"/><stop offset=".62" stop-color="#5aa85a"/><stop offset="1" stop-color="#4a9a4a"/></linearGradient>
<circle cx="119.1" cy="11.9" r="7.8" fill="url(#gSig)"/>
<path d="M119.1,11.9 L119.5,19.5 A7.6,7.6 0 0 0 125.7,8.1 Z" fill="#7cc47c" opacity=".7"/>
<circle cx="119.1" cy="11.9" r="3.3" fill="none" stroke="url(#gRing)" stroke-width="1" opacity="0.9"/>
<circle cx="119.1" cy="11.9" r="5.4" fill="none" stroke="url(#gRing)" stroke-width="1" opacity="0.75"/>
<circle cx="119.1" cy="11.9" r="7.4" fill="none" stroke="url(#gRing)" stroke-width="1" opacity="0.6"/>
<path d="M119.1,11.9 L118.9,20.3 A8.4,8.4 0 0 1 112.7,17.3 Z" fill="#f0f0f0" opacity=".7"/>
<circle cx="119.1" cy="11.9" r="1.7" fill="#1f4fd0"/>
<rect x="119.1" y="12.1" width="1.3" height="7.4" fill="#1eaa1e"/>
<polygon points="138.5,11.4 153.6,10.6 153.6,15 147,19.6 144.6,19.4" fill="url(#gFace)" stroke="#d0a018" stroke-width=".8" stroke-linejoin="round"/>
<ellipse cx="145.9" cy="9.5" rx="7.7" ry="2.8" fill="url(#gHat)" stroke="#2f8fc0" stroke-width=".8" transform="rotate(-4 145.9 9.5)"/>
<ellipse cx="145.9" cy="7.2" rx="3.8" ry="2.9" fill="url(#gHat)" stroke="#2f8fc0" stroke-width=".7"/>
<circle cx="150.7" cy="15.6" r="3.9" fill="#e62408" stroke="#c01800" stroke-width=".6"/>
<rect x="149.1" y="14.1" width="3.1" height="2.9" fill="#fff"/>
<text x="158.4" y="15.2" style="font-size:12px;font-weight:500" textLength="48.8" lengthAdjust="spacingAndGlyphs">自动交易</text>
<g class="c" fill="#505050"><rect x="232" y="6" width="1" height="14"/><rect x="231" y="7" width="3" height="1"/><rect x="230" y="17" width="14" height="1"/><rect x="242" y="16" width="1" height="3"/></g>
<g class="c" fill="#0a8a0a"><rect x="238" y="7" width="1" height="9"/><rect x="238" y="8" width="3" height="1"/><rect x="236" y="14" width="3" height="1"/></g>
<g class="c" fill="#505050"><rect x="260" y="6" width="1" height="14"/><rect x="259" y="7" width="3" height="1"/><rect x="258" y="17" width="14" height="1"/><rect x="270" y="16" width="1" height="3"/></g>
<g class="c"><rect x="266" y="4" width="1" height="12" fill="#0a8a0a"/></g>
<rect x="264.5" y="6.5" width="4" height="7" fill="url(#gGreenC)" stroke="#0a9a0a" stroke-width="1"/>
<g class="c" fill="#505050"><rect x="288" y="6" width="1" height="14"/><rect x="287" y="7" width="3" height="1"/><rect x="286" y="17" width="14" height="1"/><rect x="298" y="16" width="1" height="3"/></g>
<path d="M287.2,14.7 C289.5,13.5 291,9.3 293.2,9.3 C295.2,9.3 296.4,12.4 298.6,12.9" fill="none" stroke="#1a8a1a" stroke-width="1.2"/>
<line x1="327.8" y1="14.2" x2="332.8" y2="18.4" stroke="#a87808" stroke-width="3.4" stroke-linecap="butt"/>
<line x1="327.8" y1="14.2" x2="332.8" y2="18.4" stroke="#f2d028" stroke-width="1.8" stroke-linecap="butt"/>
<circle cx="324" cy="9.9" r="5.6" fill="url(#gLens)" stroke="#2f80d0" stroke-width="1.2"/>
<rect x="321" y="9" width="6" height="1.8" fill="#3a86b8"/>
<rect x="323.1" y="6.9" width="1.8" height="6" fill="#3a86b8"/>
<line x1="356" y1="14.2" x2="361" y2="18.4" stroke="#a87808" stroke-width="3.4" stroke-linecap="butt"/>
<line x1="356" y1="14.2" x2="361" y2="18.4" stroke="#f2d028" stroke-width="1.8" stroke-linecap="butt"/>
<circle cx="352.2" cy="9.9" r="5.6" fill="url(#gLens)" stroke="#2f80d0" stroke-width="1.2"/>
<rect x="349.2" y="9" width="6" height="1.8" fill="#3a86b8"/>
<g class="c">
<rect x="374" y="4" width="8" height="8" fill="url(#gGrn)"/>
<rect x="375" y="7" width="6" height="4" fill="#fff"/>
<rect x="376" y="8" width="4" height="1" fill="#a8dc90"/>
<rect x="377" y="10" width="2" height="1" fill="#3a9a10"/>
<rect x="375" y="5" width="1" height="1" fill="#fff" opacity=".8"/>
<rect x="382" y="4" width="8" height="8" fill="url(#gBl2)"/>
<rect x="383" y="7" width="6" height="4" fill="#fff"/>
<rect x="384" y="8" width="4" height="1" fill="#a0b8f0"/>
<rect x="385" y="10" width="2" height="1" fill="#2050d0"/>
<rect x="383" y="5" width="1" height="1" fill="#fff" opacity=".8"/>
<rect x="374" y="12" width="8" height="8" fill="url(#gBl2)"/>
<rect x="375" y="15" width="6" height="4" fill="#fff"/>
<rect x="376" y="16" width="4" height="1" fill="#a0b8f0"/>
<rect x="377" y="18" width="2" height="1" fill="#2050d0"/>
<rect x="375" y="13" width="1" height="1" fill="#fff" opacity=".8"/>
<rect x="382" y="12" width="8" height="8" fill="url(#gGrn)"/>
<rect x="383" y="15" width="6" height="4" fill="#fff"/>
<rect x="384" y="16" width="4" height="1" fill="#a8dc90"/>
<rect x="385" y="18" width="2" height="1" fill="#3a9a10"/>
<rect x="383" y="13" width="1" height="1" fill="#fff" opacity=".8"/>
</g>
<g class="c" fill="#505050"><rect x="412" y="6" width="1" height="14"/><rect x="411" y="7" width="3" height="1"/><rect x="410" y="17" width="14" height="1"/><rect x="422" y="16" width="1" height="3"/></g>
<polygon points="417.3,8.3 420.8,11.4 417.3,14.5" fill="#7ae87a" stroke="#12a012" stroke-width="1" stroke-linejoin="round"/>
<g class="c" fill="#505050"><rect x="440" y="6" width="1" height="14"/><rect x="439" y="7" width="3" height="1"/><rect x="438" y="17" width="14" height="1"/><rect x="450" y="16" width="1" height="3"/></g>
<rect class="c" x="446" y="6" width="1" height="10" fill="#1a6aa8"/>
<path d="M447.6,11.5 L451.8,11.5 M447.6,11.5 L450,9.4 M447.6,11.5 L450,13.6" stroke="#d84a10" stroke-width="1.1" fill="none"/>
<path d="M472.2,4.5 h8 l3,3 v9.6 h-11 z" fill="#fbfbfb" stroke="#9a9a9a" stroke-width=".9"/>
<path d="M480.2,4.5 v3 h3" fill="#e8e8e8" stroke="#9a9a9a" stroke-width=".7"/>
<path d="M476,7.2 c-1.6,0 -1.6,1 -1.6,2 v1 c0,1 -.6,1.2 -1,1.2 c.4,0 1,.2 1,1.2 v1.2" fill="none" stroke="#58503a" stroke-width=".8"/>
<path d="M479.4,10.4 h3.8 v3.8 h3.8 v3.8 h-3.8 v3.8 h-3.8 v-3.8 h-3.8 v-3.8 h3.8 z" fill="url(#gPlus)" stroke="#0c9a0c" stroke-width=".8"/>
<polygon points="492.6,11 498.4,11 495.5,14.2" fill="#000"/>
<polygon points="531.6,11 537.4,11 534.5,14.2" fill="#000"/>
<polygon points="570.7,11 576.5,11 573.6,14.2" fill="#000"/>
<polygon points="876.5,11 882.3,11 879.4,14.2" fill="#000"/>
<circle cx="517" cy="11.8" r="7.1" fill="url(#gClock)" stroke="#1a62d0" stroke-width="2"/>
<circle cx="517" cy="11.8" r="8" fill="none" stroke="#0c3c98" stroke-width=".5" opacity=".6"/>
<path d="M516.3,8.2 V12.3 H519.6" fill="none" stroke="#222" stroke-width="1.1"/>
<rect x="516" y="14.2" width="2" height=".8" fill="#6aa0f0"/>
<rect x="548.5" y="5.5" width="15" height="13" fill="#fff" stroke="#3a78c8" stroke-width="1"/>
<rect class="c" x="549" y="6" width="14" height="2" fill="#4a90e0"/>
<rect class="c" x="549" y="13" width="14" height="1" fill="#3a78c8"/>
<polyline points="550.5,11.2 552.8,11.2 554.2,9.8 556,9.8 557.5,10.6 559,10.6 560.5,9.6 561.8,9.6" fill="none" stroke="#b02010" stroke-width="1"/>
<polyline points="551,16.4 552.5,16.4 553.8,15.4 555.2,16.4 556.8,16.4 558.6,14.6 560,14.6 561.6,16.4" fill="none" stroke="#109018" stroke-width="1"/>
<polygon points="600.2,5 600.2,16 602.9,13.7 605,18.9 606.8,18.1 604.7,13 608.1,12.7" fill="#505050"/>
<g class="c" fill="#505050"><rect x="632" y="5" width="1" height="6"/><rect x="632" y="14" width="1" height="6"/><rect x="625" y="12" width="6" height="1"/><rect x="634" y="12" width="6" height="1"/></g>
<rect class="c" x="632" y="12" width="1" height="1" fill="#b0b0a0"/>
<g class="c" fill="#505050"><rect x="666" y="6" width="1" height="13"/><rect x="689" y="12" width="12" height="1"/></g>
<line x1="716.8" y1="18.9" x2="729.1" y2="6.6" stroke="#505050" stroke-width="1.2"/>
<g stroke="#505050" stroke-width="1" fill="none">
<line x1="742.9" y1="13.5" x2="751" y2="6"/><line x1="748" y1="18.9" x2="756.8" y2="10.2"/>
<polyline points="744.5,17.6 746.5,11.8 748.6,15.2 750.4,9.6 752.6,12.8 754.4,4.2 755.6,9.8" stroke-width=".9"/>
</g>
<text x="753.8" y="20.7" style="font-size:7px;font-weight:bold;fill:#404040">E</text>
<g class="c" fill="#505050">
<rect x="772" y="5" width="1" height="1"/>
<rect x="774" y="5" width="1" height="1"/>
<rect x="776" y="5" width="1" height="1"/>
<rect x="778" y="5" width="1" height="1"/>
<rect x="780" y="5" width="1" height="1"/>
<rect x="782" y="5" width="1" height="1"/>
<rect x="784" y="5" width="1" height="1"/>
<rect x="772" y="8" width="1" height="1"/>
<rect x="774" y="8" width="1" height="1"/>
<rect x="776" y="8" width="1" height="1"/>
<rect x="778" y="8" width="1" height="1"/>
<rect x="780" y="8" width="1" height="1"/>
<rect x="782" y="8" width="1" height="1"/>
<rect x="784" y="8" width="1" height="1"/>
<rect x="772" y="12" width="1" height="1"/>
<rect x="774" y="12" width="1" height="1"/>
<rect x="776" y="12" width="1" height="1"/>
<rect x="778" y="12" width="1" height="1"/>
<rect x="780" y="12" width="1" height="1"/>
<rect x="782" y="12" width="1" height="1"/>
<rect x="784" y="12" width="1" height="1"/>
<rect x="772" y="16" width="1" height="1"/>
<rect x="774" y="16" width="1" height="1"/>
<rect x="776" y="16" width="1" height="1"/>
<rect x="778" y="16" width="1" height="1"/>
<rect x="780" y="16" width="1" height="1"/>
</g>
<text x="781.8" y="20.7" style="font-size:7px;font-weight:bold;fill:#404040">F</text>
<text x="802.3" y="16.8" style="font-size:12.5px;font-weight:bold;fill:#555" textLength="8.6" lengthAdjust="spacingAndGlyphs">A</text>
<rect x="829.5" y="6.5" width="11" height="12" fill="none" stroke="#505050" stroke-width="1" stroke-dasharray="1,1" class="c"/>
<rect class="c" x="828" y="5" width="2" height="1" fill="#505050"/>
<g class="c" fill="#505050"><rect x="832" y="9" width="7" height="1.6" shape-rendering="auto"/><rect x="834.4" y="9" width="1.7" height="8" shape-rendering="auto"/></g>
<polygon points="855.8,10.4 863.4,10.4 859.6,5.8" fill="#505050"/>
<polygon points="862.7,15 870.3,15 866.5,19.6" fill="#505050"/>
<polyline points="857.8,13.6 860.2,15.6 864.9,10.3" fill="none" stroke="#505050" stroke-width="1.2"/>
<text x="903" y="16" style="font-size:9.7px;fill:#404040" textLength="13" lengthAdjust="spacingAndGlyphs">M1</text>
<text x="931" y="16" style="font-size:9.7px;fill:#404040" textLength="13" lengthAdjust="spacingAndGlyphs">M5</text>
<text x="957" y="16" style="font-size:9.7px;fill:#404040" textLength="18" lengthAdjust="spacingAndGlyphs">M15</text>
<text x="985" y="16" style="font-size:9.7px;fill:#404040" textLength="18" lengthAdjust="spacingAndGlyphs">M30</text>
<text x="1016" y="16" style="font-size:9.7px;fill:#404040" textLength="12" lengthAdjust="spacingAndGlyphs">H1</text>
<text x="1043" y="16" style="font-size:9.7px;fill:#404040" textLength="13" lengthAdjust="spacingAndGlyphs">H4</text>
<text x="1072" y="16" style="font-size:9.7px;fill:#404040" textLength="12" lengthAdjust="spacingAndGlyphs">D1</text>
<text x="1100" y="16" style="font-size:9.7px;fill:#404040" textLength="14" lengthAdjust="spacingAndGlyphs">W1</text>
<text x="1126" y="16" style="font-size:9.7px;fill:#404040" textLength="15" lengthAdjust="spacingAndGlyphs">MN</text>
<line x1="1616.6" y1="12.4" x2="1612" y2="16.6" stroke="#2a5fd0" stroke-width="2.4" stroke-linecap="round"/>
<circle cx="1619.6" cy="9.5" r="3.9" fill="#f4f6ff" stroke="#2a5fd0" stroke-width="1.2"/>
<ellipse cx="1642" cy="20.6" rx="5.5" ry=".9" fill="#c8c8c8" opacity=".6"/>
<path d="M1638.2,17.4 l1.2,3 l2,-2.2 z" fill="#d0d0dc" stroke="#b4b4b8" stroke-width=".5"/>
<ellipse cx="1641.8" cy="13.8" rx="5.3" ry="4.6" fill="#e4e4ee" stroke="#c0c0c4" stroke-width=".9"/>
<circle cx="1650.5" cy="9.5" r="8.2" fill="url(#gRed)"/>
<text x="1646.3" y="14.1" style="font-size:12.5px;fill:#fff;stroke:#fff;stroke-width:.3px;font-family:'DejaVu Sans','Liberation Sans',sans-serif">1</text>
</svg></body></html>
